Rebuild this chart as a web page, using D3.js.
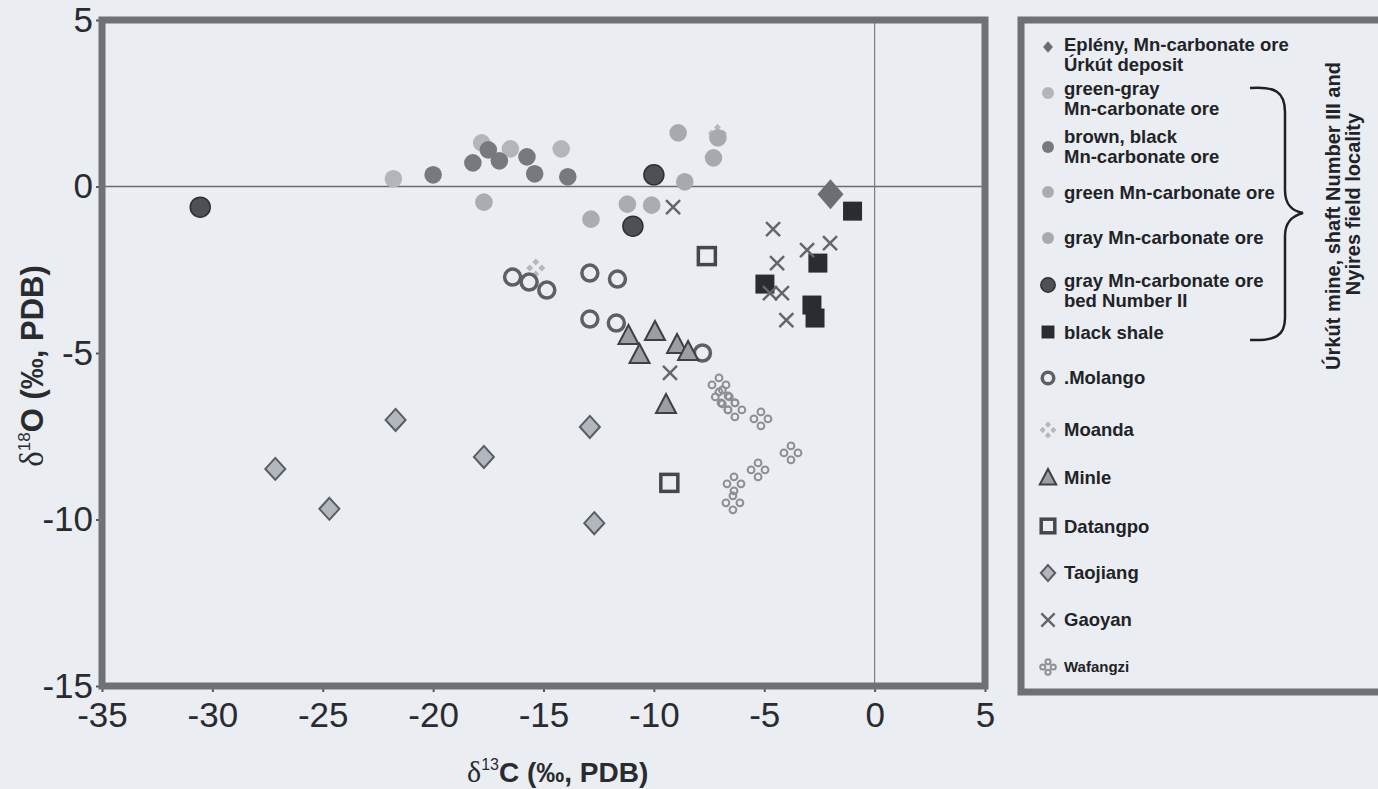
<!DOCTYPE html>
<html>
<head>
<meta charset="utf-8">
<script src="https://cdn.jsdelivr.net/npm/d3@7"></script>
<style>
  body { margin: 0; background: #eaedf2; }
  svg { display: block; font-family: "Liberation Sans", Arial, sans-serif; }
</style>
</head>
<body>
<script>
// axis ticks
let xTicks = [-35, -30, -25, -20, -15, -10, -5, 0, 5];
let yTicks = [5, 0, -5, -10, -15];

// [d13C, d18O]
let epleny = [[-2.0, -0.23]];
let greenGray = [[-21.8, 0.23], [-17.8, 1.31], [-16.5, 1.13], [-14.2, 1.13]];
let brownBlack = [[-20.0, 0.35], [-17.5, 1.1], [-18.2, 0.71], [-17.0, 0.77], [-15.75, 0.89], [-15.4, 0.38], [-13.9, 0.29]];
let greenOre = [[-17.7, -0.47], [-12.85, -0.98], [-11.2, -0.53], [-10.1, -0.56]];
let grayOre = [[-8.9, 1.61], [-7.1, 1.46], [-7.3, 0.86], [-8.6, 0.14]];
let grayBedII = [[-30.55, -0.62], [-10.0, 0.35], [-10.95, -1.19]];
let blackShale = [[-1.0, -0.74], [-2.57, -2.3], [-4.97, -2.93], [-2.84, -3.56], [-2.7, -3.95]];
let molango = [[-16.4, -2.72], [-15.65, -2.87], [-14.85, -3.11], [-12.9, -2.6], [-11.65, -2.78], [-12.9, -3.98], [-11.7, -4.1], [-7.8, -5.0]];
let moanda = [[-15.35, -2.45], [-7.12, 1.6]];
let minle = [[-11.15, -4.49], [-9.95, -4.37], [-10.65, -5.06], [-8.95, -4.76], [-8.45, -4.97], [-9.45, -6.56]];
let datangpo = [[-7.6, -2.09], [-9.3, -8.9]];
let taojiang = [[-27.15, -8.48], [-24.7, -9.68], [-21.7, -7.01], [-17.7, -8.12], [-12.9, -7.22], [-12.7, -10.11]];
let gaoyan = [[-9.13, -0.62], [-9.27, -5.6], [-4.6, -1.28], [-2.02, -1.7], [-3.06, -1.91], [-4.42, -2.3], [-4.74, -3.2], [-4.2, -3.2], [-4.0, -4.01]];
let wafangzi = [[-7.05, -5.96], [-6.9, -6.32], [-6.64, -6.5], [-6.33, -6.71], [-5.15, -6.98], [-3.79, -8.0], [-5.28, -8.51], [-6.37, -8.93], [-6.42, -9.5]];

let legendLabels = [
  ["Eplény, Mn-carbonate ore", "Úrkút deposit"],
  ["green-gray", "Mn-carbonate ore"],
  ["brown, black", "Mn-carbonate ore"],
  ["green Mn-carbonate ore"],
  ["gray Mn-carbonate ore"],
  ["gray Mn-carbonate ore", "bed Number II"],
  ["black shale"],
  [".Molango"],
  ["Moanda"],
  ["Minle"],
  ["Datangpo"],
  ["Taojiang"],
  ["Gaoyan"],
  ["Wafangzi"],
];
let legendTitle = ["Úrkút mine, shaft Number III and", "Nyires field locality"];

let svgWidth = 1378;
let svgHeight = 789;
let bg = "#eaedf2";

let svg = d3
  .select("body")
  .append("svg")
  .attr("width", svgWidth)
  .attr("height", svgHeight);

svg.append("rect").attr("width", svgWidth).attr("height", svgHeight).attr("fill", bg);

let xScale = d3.scaleLinear().domain([-35, 5]).range([102, 985]);
let yScale = d3.scaleLinear().domain([-15, 5]).range([686, 20]);

// zero lines
svg
  .append("line")
  .attr("x1", xScale(-35))
  .attr("x2", xScale(5))
  .attr("y1", yScale(0))
  .attr("y2", yScale(0))
  .attr("stroke", "#6b6d72")
  .attr("stroke-width", 1.5);
svg
  .append("line")
  .attr("x1", xScale(0))
  .attr("x2", xScale(0))
  .attr("y1", yScale(5))
  .attr("y2", yScale(-15))
  .attr("stroke", "#7a7c81")
  .attr("stroke-width", 1.2);

// axes (plain hyphen minus like the print)
let fmt = (d) => String(d);
let xAxis = d3.axisBottom(xScale).tickValues(xTicks).tickSize(6).tickPadding(10).tickFormat(fmt);
let yAxis = d3.axisLeft(yScale).tickValues(yTicks).tickSize(6).tickPadding(3).tickFormat(fmt);

let gx = svg.append("g").attr("transform", "translate(0," + yScale(-15) + ")").call(xAxis);
let gy = svg.append("g").attr("transform", "translate(" + xScale(-35) + ",0)").call(yAxis);
[gx, gy].forEach((g) => {
  g.select(".domain").remove();
  g.selectAll("line").attr("stroke", "#55575c").attr("stroke-width", 2);
  g.selectAll("text")
    .attr("fill", "#2a2b2e")
    .style("font-size", "35px")
    .style("font-family", "'Liberation Sans', Arial, sans-serif");
});

// axis titles
let xt = svg
  .append("text")
  .attr("x", 467)
  .attr("y", 782)
  .attr("fill", "#2a2b2e");
xt.append("tspan").text("δ").style("font-family", "'Liberation Serif', serif").style("font-size", "30px");
xt.append("tspan").text("13").style("font-size", "16px").attr("dy", -12);
xt.append("tspan").text("C (‰, PDB)").style("font-size", "28px").style("font-weight", "bold").attr("dy", 12);

let yt = svg
  .append("text")
  .attr("transform", "translate(43,366) rotate(-90)")
  .attr("text-anchor", "middle")
  .attr("fill", "#2a2b2e");
yt.append("tspan").text("δ").style("font-family", "'Liberation Serif', serif").style("font-size", "33px");
yt.append("tspan").text("18").style("font-size", "17px").attr("dy", -13);
yt.append("tspan").text("O (‰, PDB)").style("font-size", "31px").style("font-weight", "bold").attr("dy", 13);

// marker shapes
let diamondPath = (w, h) => "M0," + -h + "L" + w + ",0L0," + h + "L" + -w + ",0Z";
let styles = {
  greenGray: { fill: "#b4b4b9", r: 8.8 },
  brownBlack: { fill: "#77797f", r: 8.8 },
  greenOre: { fill: "#aaacb1", r: 8.8 },
  grayOre: { fill: "#a7a9ae", r: 8.8 },
  grayBedII: { fill: "#4e5056", stroke: "#2e2f33", r: 10 },
};

let drawMarker = (g, type, k) => {
  if (type === "epleny") {
    g.append("path").attr("d", diamondPath(13 * k, 15 * k)).attr("fill", "#6d6e73");
  } else if (styles[type]) {
    let s = styles[type];
    g.append("circle")
      .attr("r", s.r * k)
      .attr("fill", s.fill)
      .attr("stroke", s.stroke || "none")
      .attr("stroke-width", 1.5);
  } else if (type === "blackShale") {
    g.append("rect")
      .attr("x", -9.5 * k)
      .attr("y", -9.5 * k)
      .attr("width", 19 * k)
      .attr("height", 19 * k)
      .attr("fill", "#2b2c30");
  } else if (type === "molango") {
    g.append("circle").attr("r", 8 * k).attr("fill", "none").attr("stroke", "#5d5f64").attr("stroke-width", 3.5);
  } else if (type === "moanda") {
    [[0, -6], [6, 0], [0, 6], [-6, 0]].forEach((o) => {
      g.append("path")
        .attr("transform", "translate(" + o[0] * k + "," + o[1] * k + ")")
        .attr("d", diamondPath(3.5 * k, 3.5 * k))
        .attr("fill", "#b6b8bd");
    });
  } else if (type === "minle") {
    g.append("path")
      .attr("d", "M0," + -11 * k + "L" + 10 * k + "," + 8 * k + "L" + -10 * k + "," + 8 * k + "Z")
      .attr("fill", "#9c9ea3")
      .attr("stroke", "#3e4045")
      .attr("stroke-width", 2);
  } else if (type === "datangpo") {
    g.append("rect")
      .attr("x", -8.5 * k)
      .attr("y", -8.5 * k)
      .attr("width", 17 * k)
      .attr("height", 17 * k)
      .attr("fill", "none")
      .attr("stroke", "#45474c")
      .attr("stroke-width", 3.5);
  } else if (type === "taojiang") {
    g.append("path")
      .attr("d", diamondPath(10 * k, 11 * k))
      .attr("fill", "#b2b6bf")
      .attr("stroke", "#5a5c62")
      .attr("stroke-width", 2);
  } else if (type === "gaoyan") {
    let a = 7 * k;
    g.append("path")
      .attr("d", "M" + -a + "," + -a + "L" + a + "," + a + "M" + a + "," + -a + "L" + -a + "," + a)
      .attr("stroke", "#64666b")
      .attr("stroke-width", 2.5)
      .attr("fill", "none");
  } else if (type === "wafangzi") {
    [[0, -7], [7, 0], [0, 7], [-7, 0]].forEach((o) => {
      g.append("circle")
        .attr("cx", o[0] * k)
        .attr("cy", o[1] * k)
        .attr("r", 3.4 * k)
        .attr("fill", "none")
        .attr("stroke", "#8d8f94")
        .attr("stroke-width", 2);
    });
  }
};

let series = [
  ["moanda", moanda],
  ["wafangzi", wafangzi],
  ["taojiang", taojiang],
  ["datangpo", datangpo],
  ["molango", molango],
  ["minle", minle],
  ["blackShale", blackShale],
  ["gaoyan", gaoyan],
  ["greenGray", greenGray],
  ["greenOre", greenOre],
  ["grayOre", grayOre],
  ["brownBlack", brownBlack],
  ["grayBedII", grayBedII],
  ["epleny", epleny],
];

series.forEach((s) => {
  svg
    .append("g")
    .selectAll("g")
    .data(s[1])
    .enter()
    .append("g")
    .attr("transform", (d) => "translate(" + xScale(d[0]) + "," + yScale(d[1]) + ")")
    .each(function () {
      drawMarker(d3.select(this), s[0], 1);
    });
});

// plot frame
svg
  .append("rect")
  .attr("x", xScale(-35))
  .attr("y", yScale(5))
  .attr("width", xScale(5) - xScale(-35))
  .attr("height", yScale(-15) - yScale(5))
  .attr("fill", "none")
  .attr("stroke", "#707176")
  .attr("stroke-width", 7);

// legend
let legend = svg.append("g");
legend
  .append("rect")
  .attr("x", 1021)
  .attr("y", 20)
  .attr("width", 420)
  .attr("height", 672)
  .attr("fill", "none")
  .attr("stroke", "#6f7075")
  .attr("stroke-width", 7);

let legendTypes = ["epleny", "greenGray", "brownBlack", "greenOre", "grayOre", "grayBedII", "blackShale", "molango", "moanda", "minle", "datangpo", "taojiang", "gaoyan", "wafangzi"];
let legendMarkerY = [47, 93, 147, 192, 238, 285, 332, 378, 430, 478, 526, 573, 620, 667];
let legendTextY = [51, 95, 143, 199, 244, 287, 339, 384, 436, 484, 533, 579, 626, 672];
let legendScale = [0.38, 0.68, 0.68, 0.68, 0.68, 0.72, 0.68, 0.72, 0.9, 0.82, 0.8, 0.72, 0.95, 0.75];

legendTypes.forEach((t, i) => {
  let g = legend.append("g").attr("transform", "translate(1048," + legendMarkerY[i] + ")");
  drawMarker(g, t, legendScale[i]);
  let size = t === "wafangzi" ? "15px" : "18.5px";
  legendLabels[i].forEach((line, j) => {
    legend
      .append("text")
      .attr("x", 1064)
      .attr("y", legendTextY[i] + j * 20)
      .attr("fill", "#222326")
      .style("font-size", size)
      .style("font-weight", "bold")
      .text(line);
  });
});

// brace
legend
  .append("path")
  .attr("d", "M1250,88 C1275,86 1285,92 1285,112 L1285,190 C1285,205 1292,211 1303,213 C1292,216 1285,222 1285,236 L1285,318 C1285,336 1275,341 1250,340")
  .attr("fill", "none")
  .attr("stroke", "#1f2023")
  .attr("stroke-width", 2.5);

let titleX = [1340, 1360];
let titleY = [216, 204];
legendTitle.forEach((line, i) => {
  legend
    .append("text")
    .attr("transform", "translate(" + titleX[i] + "," + titleY[i] + ") rotate(-90)")
    .attr("text-anchor", "middle")
    .attr("fill", "#222326")
    .style("font-size", "20px")
    .style("font-weight", "bold")
    .text(line);
});
</script>
</body>
</html>
